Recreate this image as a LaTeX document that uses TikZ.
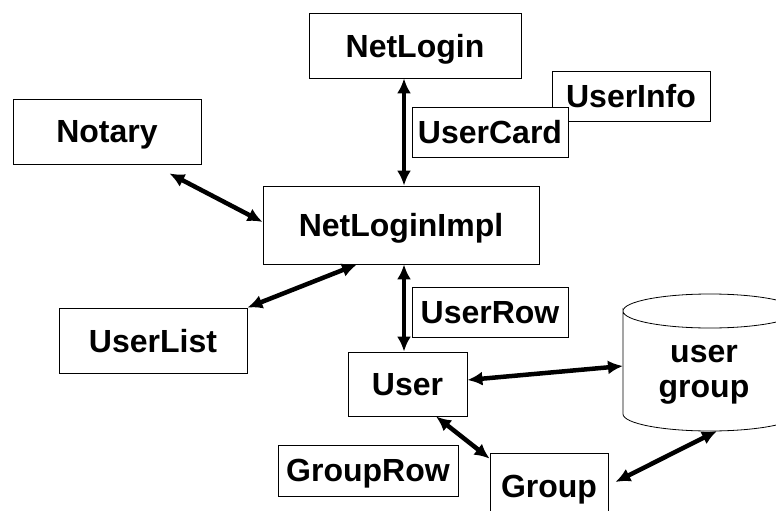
\documentclass[tikz,border=0pt]{standalone}
\usepackage{fontspec}
\setmainfont{Liberation Sans}
\usetikzlibrary{arrows.meta}

\begin{document}
\begin{tikzpicture}[x=1pt,y=-1pt,
  every node/.style={font=\bfseries\fontsize{32}{35}\selectfont},
  cls/.style={draw,rectangle,inner sep=0pt,fill=white,line width=0.8pt,text depth=0pt},
  link/.style={{Latex[length=15pt,width=14pt]}-{Latex[length=15pt,width=14pt]},line width=4.5pt}]

  \useasboundingbox (0,0) rectangle (776,511);

  % Top row
  \node[cls,minimum width=212pt,minimum height=65pt] (netlogin) at (415,45.5) {NetLogin};
  \node[cls,minimum width=158pt,minimum height=50pt] (userinfo) at (631,96) {UserInfo};
  \node[cls,minimum width=156pt,minimum height=50pt] (usercard) at (490,132) {UserCard};
  \node[cls,minimum width=188pt,minimum height=65pt] (notary) at (107,131.5) {Notary};

  % Middle
  \node[cls,minimum width=276pt,minimum height=78pt] (impl) at (401,225) {NetLoginImpl};
  \node[cls,minimum width=188pt,minimum height=65pt] (userlist) at (153,340.5) {UserList};
  \node[cls,minimum width=156pt,minimum height=50pt] (userrow) at (490,312) {UserRow};

  % Bottom
  \node[cls,minimum width=119pt,minimum height=64pt] (user) at (407.5,384) {User};
  \node[cls,minimum width=180pt,minimum height=51pt] (grouprow) at (368,470.5) {GroupRow};
  \node[cls,minimum width=118pt,minimum height=67pt] (group) at (549,486.5) {Group};

  % Database
  \draw[line width=0.8pt] (623,311) arc[start angle=180,end angle=-180,x radius=87pt,y radius=17pt]
    -- (623,414) arc[start angle=180,end angle=360,x radius=87pt,y radius=17pt] -- (797,311);
  \node[align=center] (ugroup) at (704,374.5) {user\\group};
  \coordinate (ugw) at (623,366);
  \coordinate (ugs) at (717,431);

  % Links
  \draw[link] ([xshift=-11pt]netlogin.south) -- ([xshift=3pt]impl.north);
  \draw[link] ([xshift=-32pt,yshift=-9pt]notary.south east) -- ([yshift=3pt]impl.west);
  \draw[link] (userlist.north east) -- ([xshift=-44pt]impl.south);
  \draw[link] ([xshift=3pt]impl.south) -- ([xshift=-3.5pt]user.north);
  \draw[link] ([yshift=4pt]user.east) -- (ugw);
  \draw[link] ([xshift=28.5pt]user.south) -- ([yshift=-6pt]group.north west);
  \draw[link] ([xshift=7pt,yshift=4.5pt]group.east) -- (ugs);

\end{tikzpicture}
\end{document}
